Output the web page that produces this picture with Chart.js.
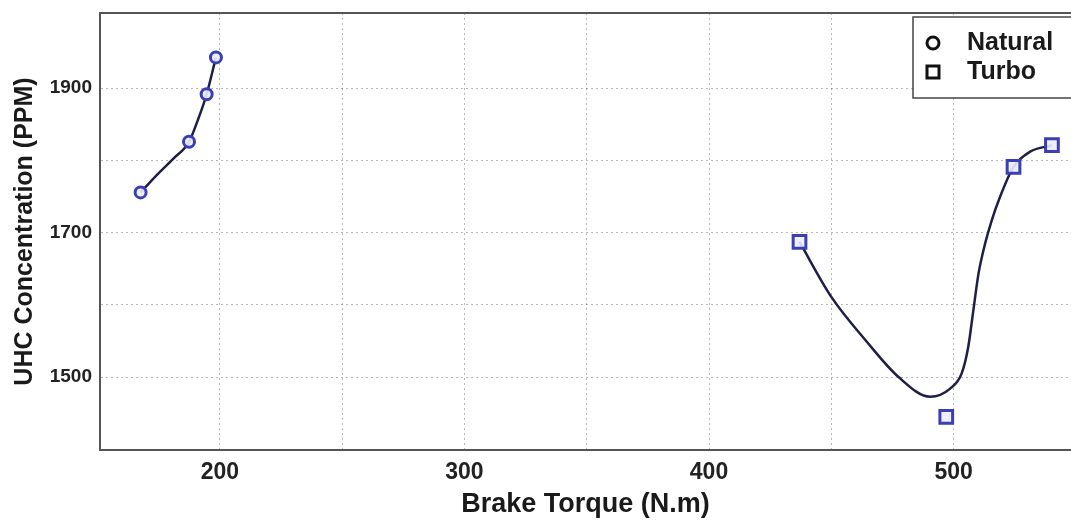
<!DOCTYPE html>
<html>
<head>
<meta charset="utf-8">
<script src="https://cdn.jsdelivr.net/npm/chart.js@4.4.1/dist/chart.umd.min.js"></script>
<style>
  html, body { margin: 0; padding: 0; background: #fff; overflow: hidden; }
  #wrap { width: 1071px; height: 521px; }
</style>
</head>
<body>
<div id="wrap"><canvas id="chart_uhc"></canvas></div>
<script>
// measured points
const natTorque = [167.6, 187.4, 194.6, 198.4];
const natUHC = [1755.6, 1825.7, 1891.5, 1942.5];
const turboTorque = [437, 497, 524.5, 540.2];
const turboUHC = [1687, 1445, 1791, 1821];

// fitted curves
const natFitTorque = [167.6, 174.2, 180.8, 187.4, 191, 194.6, 198.4];
const natFitUHC = [1755.6, 1779.6, 1801.7, 1825.7, 1855.7, 1891.5, 1942.5];
const turboFitTorque = [437, 450, 464, 477.5, 490.4, 498.6, 503.3, 506, 508.1, 510.2, 512.9, 515.6, 519, 524.5, 531.3, 540.2];
const turboFitUHC = [1687, 1611, 1551, 1500, 1472.7, 1484, 1505, 1542, 1593, 1643.5, 1685, 1717, 1749.6, 1791, 1812, 1821];

// grid positions and labelled ticks
const xGrid = [200, 250, 300, 350, 400, 450, 500];
const yGrid = [1500, 1600, 1700, 1800, 1900];
const xLabels = [200, 300, 400, 500];
const yLabels = [1500, 1700, 1900];
const legendNames = ['Natural', 'Turbo'];

function toPoints(xs, ys) {
  return xs.map((x, i) => ({ x: x, y: ys[i] }));
}

const markerColor = '#3a3fb3';
const lineColor = '#1e1e48';
const gridColor = 'rgba(0, 0, 0, 0.28)';
const fontFamily = '"Liberation Sans", Arial, sans-serif';

// top border + legend box
const frame = {
  id: 'frame',
  afterDraw(chart) {
    const ctx = chart.ctx;
    const a = chart.chartArea;
    ctx.save();
    ctx.strokeStyle = '#555';
    ctx.lineWidth = 2;
    ctx.beginPath();
    ctx.moveTo(a.left, a.top);
    ctx.lineTo(a.right + 2, a.top);
    ctx.stroke();

    // legend
    const bx = 913, by = 17, bh = 81;
    ctx.fillStyle = '#fff';
    ctx.fillRect(bx, by, 170, bh);
    ctx.strokeStyle = '#444';
    ctx.lineWidth = 1.5;
    ctx.strokeRect(bx, by, 170, bh);

    ctx.strokeStyle = '#111';
    ctx.lineWidth = 3;
    ctx.beginPath();
    ctx.arc(933, 43, 6, 0, Math.PI * 2);
    ctx.stroke();
    ctx.strokeRect(927, 66, 12, 12);

    ctx.fillStyle = '#1a1a1a';
    ctx.font = 'bold 25px ' + fontFamily;
    ctx.textBaseline = 'middle';
    ctx.textAlign = 'left';
    ctx.fillText(legendNames[0], 967, 43);
    ctx.fillText(legendNames[1], 967, 72);
    ctx.restore();
  }
};

new Chart(
  document.getElementById('chart_uhc'),
  {
    type: 'scatter',
    data: {
      datasets: [
        {
          label: 'Natural fit',
          data: toPoints(natFitTorque, natFitUHC),
          showLine: true,
          cubicInterpolationMode: 'monotone',
          borderColor: lineColor,
          borderWidth: 2.5,
          pointRadius: 0,
          order: 2
        },
        {
          label: 'Turbo fit',
          data: toPoints(turboFitTorque, turboFitUHC),
          showLine: true,
          cubicInterpolationMode: 'monotone',
          borderColor: lineColor,
          borderWidth: 2.5,
          pointRadius: 0,
          order: 2
        },
        {
          label: 'Natural',
          data: toPoints(natTorque, natUHC),
          pointStyle: 'circle',
          pointRadius: 5.5,
          borderWidth: 3,
          borderColor: markerColor,
          backgroundColor: 'rgba(235,236,255,0.9)',
          order: 1
        },
        {
          label: 'Turbo',
          data: toPoints(turboTorque, turboUHC),
          pointStyle: 'rect',
          pointRadius: 9,
          borderWidth: 3,
          borderColor: markerColor,
          backgroundColor: 'rgba(235,236,255,0.9)',
          order: 1
        }
      ]
    },
    options: {
      responsive: true,
      maintainAspectRatio: false,
      animation: false,
      layout: {
        autoPadding: false,
        padding: { top: 13, right: 0, left: 0, bottom: 0 }
      },
      scales: {
        x: {
          type: 'linear',
          min: 151,
          max: 548,
          afterBuildTicks: s => { s.ticks = xGrid.map(v => ({ value: v })); },
          afterFit: s => { s.height = 71; s.paddingRight = 0; },
          ticks: {
            padding: 9,
            color: '#222',
            font: { size: 23, weight: 'bold', family: fontFamily },
            callback: v => xLabels.includes(v) ? String(v) : ''
          },
          grid: {
            color: gridColor,
            drawTicks: false,
            tickLength: 0
          },
          border: { color: '#555', width: 2, dash: [2, 3] },
          title: {
            display: true,
            text: 'Brake Torque (N.m)',
            color: '#1a1a1a',
            font: { size: 27, weight: 'bold', family: fontFamily },
            padding: { top: 0, bottom: 0 }
          }
        },
        y: {
          type: 'linear',
          min: 1399,
          max: 2004,
          afterBuildTicks: s => { s.ticks = yGrid.map(v => ({ value: v })); },
          afterFit: s => { s.width = 100; s.paddingTop = 0; s.paddingBottom = 0; },
          ticks: {
            padding: 8,
            color: '#222',
            font: { size: 19, weight: 'bold', family: fontFamily },
            callback: v => yLabels.includes(v) ? String(v) : ''
          },
          grid: {
            color: gridColor,
            drawTicks: false,
            tickLength: 0
          },
          border: { color: '#555', width: 2, dash: [2, 3] },
          title: {
            display: true,
            text: 'UHC Concentration (PPM)',
            color: '#1a1a1a',
            font: { size: 25, weight: 'bold', family: fontFamily },
            padding: { top: 10, bottom: 0 }
          }
        }
      },
      plugins: {
        legend: { display: false },
        tooltip: { enabled: false }
      }
    },
    plugins: [frame]
  }
);
</script>
</body>
</html>
